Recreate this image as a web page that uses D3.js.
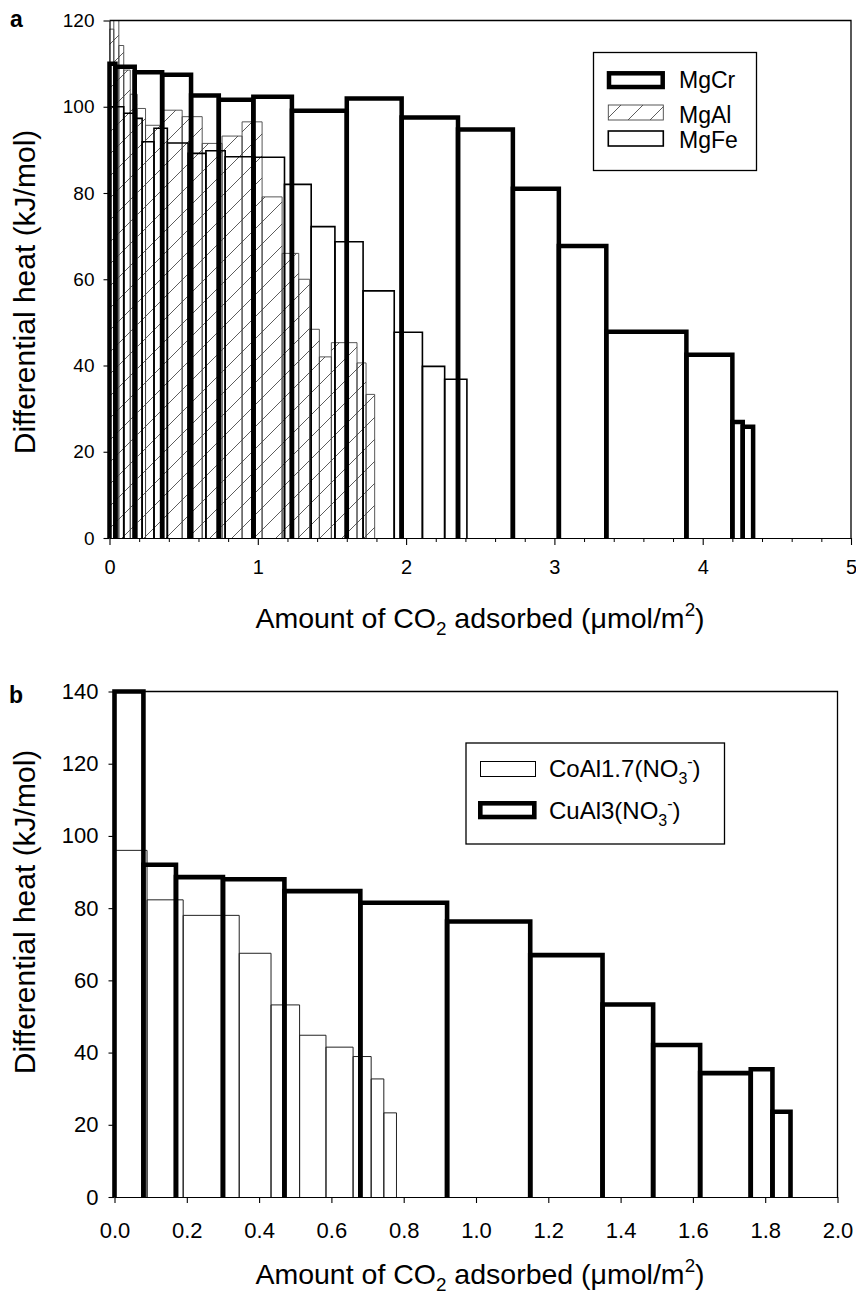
<!DOCTYPE html>
<html><head><meta charset="utf-8">
<script src="https://cdn.jsdelivr.net/npm/d3@7"></script>
<style>
body{margin:0;background:#fff}
svg{display:block}
text{font-family:"Liberation Sans", Arial, Helvetica, sans-serif; fill:#000}
</style>
</head><body>
<svg id="c" width="856" height="1297"></svg>
<script>
// ---------- Panel a data (cumulative amount edges, differential heat per step) ----------
const mgCrEdges = [0, 0.04, 0.17, 0.355, 0.55, 0.737, 0.97, 1.23, 1.60, 1.97, 2.35, 2.72, 3.03, 3.35, 3.89, 4.20, 4.27, 4.34];
const mgCrHeat  = [110, 109.3, 108.0, 107.4, 102.6, 101.6, 102.3, 99.1, 101.9, 97.5, 94.7, 81.0, 67.7, 47.8, 42.5, 26.9, 25.8];

const mgAlEdges = [0, 0.029, 0.063, 0.096, 0.14, 0.187, 0.243, 0.35, 0.49, 0.625, 0.759, 0.894, 1.029, 1.164, 1.276, 1.35, 1.415, 1.496, 1.669, 1.73, 1.788];
const mgAlHeat  = [118, 130, 114.2, 108.5, 102.9, 99.6, 95.7, 99.2, 97.7, 91.5, 93.2, 96.5, 79.1, 66.0, 60.0, 48.4, 42.0, 45.3, 40.6, 33.3];

const mgFeEdges = [0, 0.096, 0.164, 0.22, 0.30, 0.39, 0.53, 0.65, 0.78, 0.98, 1.18, 1.36, 1.52, 1.71, 1.92, 2.11, 2.26, 2.41];
const mgFeHeat  = [100, 98.5, 97.3, 91.9, 95.0, 91.6, 89.2, 89.8, 88.4, 88.3, 82.0, 72.2, 68.7, 57.3, 47.7, 39.8, 36.8];

const xTicksA = [0, 1, 2, 3, 4, 5];
const xMinorA = [0.2,0.4,0.6,0.8,1.2,1.4,1.6,1.8,2.2,2.4,2.6,2.8,3.2,3.4,3.6,3.8,4.2,4.4,4.6,4.8];
const yTicksA = [0, 20, 40, 60, 80, 100, 120];
const seriesA = ["MgCr", "MgAl", "MgFe"];

// ---------- Panel b data ----------
const coAlEdges = [0, 0.09, 0.19, 0.345, 0.433, 0.512, 0.585, 0.66, 0.71, 0.745, 0.78];
const coAlHeat  = [96, 82.3, 78, 67.5, 53.2, 44.8, 41.5, 38.9, 32.7, 23.3];

const cuAlEdges = [0, 0.08, 0.17, 0.30, 0.47, 0.68, 0.92, 1.15, 1.35, 1.49, 1.62, 1.76, 1.82, 1.87];
const cuAlHeat  = [140, 92, 88.6, 88, 84.7, 81.5, 76.3, 67, 53.3, 42.1, 34.3, 35.4, 23.6];

const xTicksB = [0, 0.2, 0.4, 0.6, 0.8, 1.0, 1.2, 1.4, 1.6, 1.8, 2.0];
const yTicksB = [0, 20, 40, 60, 80, 100, 120, 140];
const seriesB = ["CoAl1.7(NO", "CuAl3(NO"];

// ---------- drawing ----------
const svg = d3.select("#c");
const FONT = '"Liberation Sans", Arial, Helvetica, sans-serif';

const defs = svg.append("defs");
const pat = defs.append("pattern").attr("id", "hatch")
  .attr("patternUnits", "userSpaceOnUse").attr("width", 22).attr("height", 22);
pat.append("path").attr("d", "M-3,3 L3,-3 M0,22 L22,0 M19,25 L25,19")
  .attr("stroke", "#333").attr("stroke-width", 0.8).attr("fill", "none");

function toBars(edges, heat) {
  return heat.map((h, i) => ({ x0: edges[i], x1: edges[i + 1], h }));
}
function drawBars(g, x, y, edges, heat, style) {
  g.selectAll(null).data(toBars(edges, heat)).join("path")
    .attr("d", d => `M${x(d.x0)},${y(0)}V${y(d.h)}H${x(d.x1)}V${y(0)}`)
    .attr("fill", style.fill || "none")
    .attr("stroke", style.stroke || "#000")
    .attr("stroke-width", style.sw);
}
function styleAxis(g, fs) {
  g.attr("font-family", FONT).attr("font-size", fs);
  g.selectAll("text").attr("fill", "#000");
  g.selectAll("line").attr("stroke", "#000").attr("stroke-width", 1.1);
  g.select(".domain").attr("stroke", "#000").attr("stroke-width", 1.2);
}
function xTitle(x, y, fs) {
  const t = svg.append("text").attr("x", x).attr("y", y).attr("text-anchor", "middle")
    .attr("font-size", fs).attr("font-family", FONT);
  t.append("tspan").text("Amount of CO");
  t.append("tspan").attr("font-size", fs * 0.66).attr("dy", fs * 0.25).text("2");
  t.append("tspan").attr("dy", -fs * 0.25).text(" adsorbed (\u03bcmol/m");
  t.append("tspan").attr("font-size", fs * 0.66).attr("dy", -fs * 0.42).text("2");
  t.append("tspan").attr("dy", fs * 0.42).text(")");
}
function yTitle(x, y, fs) {
  svg.append("text").attr("transform", `translate(${x},${y}) rotate(-90)`)
    .attr("text-anchor", "middle").attr("font-size", fs).attr("font-family", FONT)
    .text("Differential heat (kJ/mol)");
}

// ===== Panel a =====
const xa = d3.scaleLinear().domain([0, 5]).range([109.5, 851]);
const ya = d3.scaleLinear().domain([0, 120]).range([538, 20.5]);

defs.append("clipPath").attr("id", "clipA").append("rect")
  .attr("x", xa(0)).attr("y", ya(120)).attr("width", xa(5) - xa(0)).attr("height", ya(0) - ya(120) + 1);

const ga = svg.append("g").attr("clip-path", "url(#clipA)");
drawBars(ga.append("g"), xa, ya, mgAlEdges, mgAlHeat, { fill: "url(#hatch)", stroke: "#444", sw: 0.9 });
drawBars(ga.append("g"), xa, ya, mgFeEdges, mgFeHeat, { sw: 1.6 });
drawBars(svg.append("g"), xa, ya, mgCrEdges, mgCrHeat, { sw: 4.5 });

// frame (top + right)
svg.append("path").attr("d", `M${xa(0)},${ya(120)}H${xa(5)}V${ya(0)}`)
  .attr("fill", "none").attr("stroke", "#000").attr("stroke-width", 1.3);

const axA = svg.append("g").attr("transform", `translate(0,${ya(0)})`)
  .call(d3.axisBottom(xa).tickValues(xTicksA).tickSize(7).tickPadding(15).tickSizeOuter(0).tickFormat(d3.format("d")));
styleAxis(axA, 20);
const axAm = svg.append("g").attr("transform", `translate(0,${ya(0)})`)
  .call(d3.axisBottom(xa).tickValues(xMinorA).tickSize(4).tickFormat(""));
axAm.select(".domain").remove();
axAm.selectAll("line").attr("stroke", "#000");
const ayA = svg.append("g").attr("transform", `translate(${xa(0)},0)`)
  .call(d3.axisLeft(ya).tickValues(yTicksA).tickSize(6).tickPadding(9).tickSizeOuter(0));
styleAxis(ayA, 19);

xTitle(480, 628, 28.5);
yTitle(35, 292, 30);
svg.append("text").attr("x", 10).attr("y", 27).attr("font-size", 23).attr("font-weight", "bold")
  .attr("font-family", FONT).text("a");

// legend a
const lgA = svg.append("g");
lgA.append("rect").attr("x", 593.5).attr("y", 52.5).attr("width", 163).attr("height", 118)
  .attr("fill", "#fff").attr("stroke", "#000").attr("stroke-width", 1.3);
const swA = [
  { name: seriesA[0], x: 609, y: 73.3, w: 53.7, h: 13.7, sw: 4.5, fill: "none", stroke: "#000", ty: 88.3 },
  { name: seriesA[1], x: 608.3, y: 105, w: 55, h: 15, sw: 0.9, fill: "url(#hatch)", stroke: "#444", ty: 122.5 },
  { name: seriesA[2], x: 608.3, y: 131, w: 55, h: 15, sw: 1.6, fill: "none", stroke: "#000", ty: 147.5 }
];
swA.forEach(s => {
  lgA.append("rect").attr("x", s.x).attr("y", s.y).attr("width", s.w).attr("height", s.h)
    .attr("fill", s.fill).attr("stroke", s.stroke).attr("stroke-width", s.sw);
  lgA.append("text").attr("x", 679).attr("y", s.ty).attr("font-size", 23).attr("font-family", FONT).text(s.name);
});

// ===== Panel b =====
const xb = d3.scaleLinear().domain([0, 2]).range([114.5, 837.5]);
const yb = d3.scaleLinear().domain([0, 140]).range([1197, 691.5]);

drawBars(svg.append("g"), xb, yb, coAlEdges, coAlHeat, { sw: 1.0, stroke: "#222" });
drawBars(svg.append("g"), xb, yb, cuAlEdges, cuAlHeat, { sw: 4.6 });

svg.append("path").attr("d", `M${xb(0)},${yb(140)}H${xb(2)}V${yb(0)}`)
  .attr("fill", "none").attr("stroke", "#000").attr("stroke-width", 1.3);

const axB = svg.append("g").attr("transform", `translate(0,${yb(0)})`)
  .call(d3.axisBottom(xb).tickValues(xTicksB).tickSize(6).tickPadding(19).tickSizeOuter(0).tickFormat(d3.format(".1f")));
styleAxis(axB, 22);
const ayB = svg.append("g").attr("transform", `translate(${xb(0)},0)`)
  .call(d3.axisLeft(yb).tickValues(yTicksB).tickSize(6).tickPadding(10).tickSizeOuter(0));
styleAxis(ayB, 22);

xTitle(480, 1284, 28.5);
yTitle(35, 912, 30);
svg.append("text").attr("x", 9).attr("y", 703).attr("font-size", 23).attr("font-weight", "bold")
  .attr("font-family", FONT).text("b");

// legend b
const lgB = svg.append("g");
lgB.append("rect").attr("x", 466).attr("y", 743).attr("width", 258.5).attr("height", 101)
  .attr("fill", "#fff").attr("stroke", "#000").attr("stroke-width", 1.3);
const swB = [
  { name: seriesB[0], x: 480.5, y: 761.5, w: 55, h: 15, sw: 1.0, ty: 777 },
  { name: seriesB[1], x: 480.3, y: 803.3, w: 54, h: 13.7, sw: 4.6, ty: 818.5 }
];
swB.forEach(s => {
  lgB.append("rect").attr("x", s.x).attr("y", s.y).attr("width", s.w).attr("height", s.h)
    .attr("fill", "none").attr("stroke", "#000").attr("stroke-width", s.sw);
  const t = lgB.append("text").attr("x", 549).attr("y", s.ty).attr("font-size", 24).attr("font-family", FONT);
  t.append("tspan").text(s.name);
  t.append("tspan").attr("font-size", 16).attr("dy", 7).text("3");
  t.append("tspan").attr("font-size", 16).attr("dy", -17).text("-");
  t.append("tspan").attr("dy", 10).text(")");
});
</script>
</body></html>
